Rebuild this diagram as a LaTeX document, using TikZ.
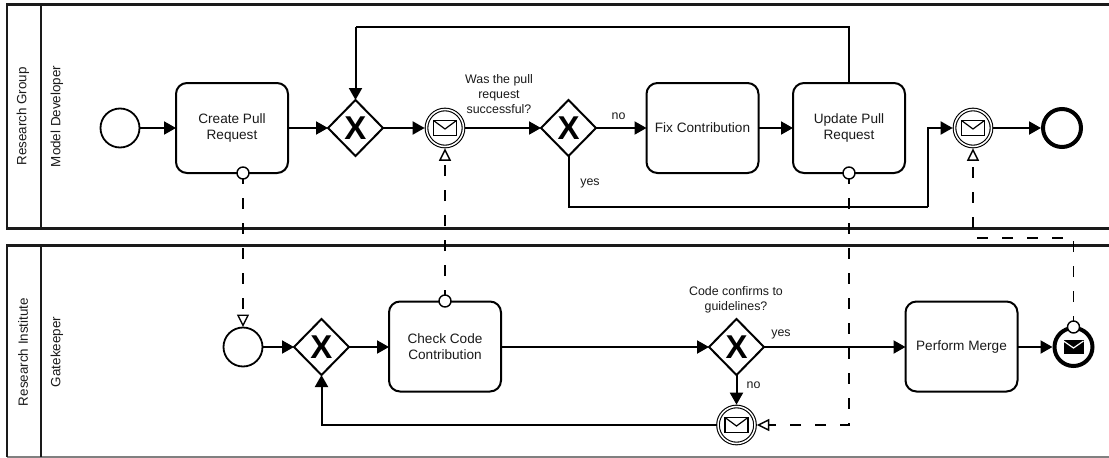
\documentclass[tikz,border=0pt]{standalone}
\usepackage{fontspec}
\setmainfont{Liberation Sans}
\usetikzlibrary{arrows.meta,shapes.geometric}
\definecolor{ink}{HTML}{1A1A1A}
\tikzset{
  x=1pt,y=-1pt,
  poolline/.style={draw=ink,line width=2.2pt},
  tasklabel/.style={font=\fontsize{13.6}{16}\selectfont,align=center,text=ink},
  smalllabel/.style={font=\fontsize{12.4}{15}\selectfont,align=center,text=ink,inner sep=0pt},
  poollabel/.style={font=\fontsize{13.4}{16}\selectfont,text=ink,rotate=90,inner sep=0pt},
  task/.style={tasklabel,draw=black,line width=2pt,fill=white,rounded corners=11pt,minimum width=112pt,minimum height=90pt,inner sep=0pt,outer sep=0pt},
  xgate/.style={diamond,aspect=1,draw=black,line width=2pt,fill=white,minimum width=55pt,minimum height=56pt,inner sep=0pt,outer sep=0pt,font=\fontsize{33}{33}\bfseries\selectfont},
  startev/.style={circle,draw=black,line width=1.8pt,fill=white,minimum size=39pt,inner sep=0pt,outer sep=0.5pt},
  endev/.style={circle,draw=black,line width=4pt,fill=white,minimum size=38pt,inner sep=0pt,outer sep=2pt},
  catchev/.style={circle,draw=black,fill=white,line width=1.1pt,double,double distance=1.5pt,minimum size=37pt,inner sep=0pt,outer sep=1.85pt},
  port/.style={circle,draw=black,line width=1.4pt,fill=white,minimum size=12pt,inner sep=0pt,outer sep=0pt},
  flow/.style={draw=black,line width=2pt,-{Triangle[length=12pt,width=13pt]}},
  plainflow/.style={draw=black,line width=2pt},
  msg/.style={draw=black,line width=1.6pt,dash pattern=on 11pt off 14pt,dash phase=6pt,-{Triangle[open,length=12.5pt,width=12pt,line width=1.4pt]}},
  mailicon/.pic={
    \draw[black,line width=1.2pt,fill=white] (-11.5,-7.5) rectangle (11.5,7.5);
    \draw[black,line width=1.2pt] (-11.5,-7.5) -- (0,1) -- (11.5,-7.5);
  },
  mailfilled/.pic={
    \fill[black] (-10,-7) rectangle (10,7);
    \draw[white,line width=1.2pt] (-10,-6) -- (0,1) -- (10,-6);
  },
}
\begin{document}
\begin{tikzpicture}
\useasboundingbox (0,0) rectangle (1109,458);
\fill[white] (0,0) rectangle (1109,458);

% pools
\draw[poolline] (1109,4.5) -- (7,4.5) -- (7,228.5) -- (1109,228.5);
\draw[poolline] (41,4.5) -- (41,228.5);
\draw[draw=gray,line width=1.5pt] (7,457) -- (1109,457);
\draw[poolline] (7,457) -- (7,245.5) -- (1109,245.5);
\draw[poolline] (41,245.5) -- (41,457);
\node[poollabel] (pa) at (23,116.5) {Research Group};
\node[poollabel] (pb) at (57,116.5) {Model Developer};
\node[poollabel] (pc) at (23,352) {Research Institute};
\node[poollabel] (pd) at (57,352) {Gatekeeper};

% upper lane
\node[startev] (s1) at (120,128) {};
\node[task] (create) at (232,128) {Create Pull\\Request};
\node[xgate] (g1) at (355.5,128) {X};
\node[catchev] (e1) at (445,128) {};
\pic at (e1.center) {mailicon};
\node[xgate] (g2) at (568.5,128) {X};
\node[task] (fix) at (702.5,128) {Fix Contribution};
\node[task] (upd) at (849,128) {Update Pull\\Request};
\node[catchev] (e2) at (973,128) {};
\pic at (e2.center) {mailicon};
\node[endev] (e3) at (1062,128) {};
\coordinate (looptop) at (355.5,27);
\coordinate (yesturn) at (928,207);

% lower lane
\node[startev] (s2) at (243,347) {};
\node[xgate] (g3) at (321.5,347) {X};
\node[task] (check) at (445,346.5) {Check Code\\Contribution};
\node[xgate] (g4) at (736.5,347) {X};
\node[catchev] (e4) at (736.5,425) {};
\pic at (e4.center) {mailicon};
\node[task] (merge) at (961.5,346.5) {Perform Merge};
\node[endev] (e5) at (1073.5,347) {};
\pic at (e5.center) {mailfilled};
\coordinate (msgturn) at (973,238);
\coordinate (msgcorner) at (849,425);

% ports
\node[port] (pcreate) at (243,173) {};
\node[port] (pupd) at (849,173) {};
\node[port] (pcheck) at (445,301) {};
\node[port] (pend) at (1073.5,327) {};

% sequence flows
\draw[flow] (s1) -- (create);
\draw[flow] (create) -- (g1);
\draw[flow] (g1) -- (e1);
\draw[flow] (e1) -- (g2);
\draw[flow] (g2) -- (fix);
\draw[flow] (fix) -- (upd);
\draw[plainflow] (upd.north) |- (looptop);
\draw[flow] (looptop) -- (g1.north);
\draw[plainflow] (g2.south) |- (yesturn);
\draw[flow] (yesturn) |- (e2.west);
\draw[flow] (e2) -- (e3);
\draw[flow] (s2) -- (g3);
\draw[flow] (g3) -- (check.west |- g3.east);
\draw[flow] (check.east |- g4.west) -- (g4.west);
\draw[flow] (g4.east) -- (merge.west |- g4.east);
\draw[flow] (g4.south) -- (e4.north);
\draw[flow] (merge.east |- e5.west) -- (e5.west);
\draw[flow] (e4.west) -| (g3.south);

% message flows
\draw[msg] (pcreate.south) -- (s2.north);
\draw[msg] (pcheck.north) -- (e1.south);
\draw[msg] (pupd.south) -- (msgcorner) -- (e4.east);
\draw[msg] (pend.north) |- (msgturn) -- (e2.south);

% labels
\node[smalllabel] (q1) at (499,94) {Was the pull\\request\\successful?};
\node[smalllabel] (q2) at (736,299.5) {Code confirms to\\guidelines?};
\node[smalllabel] (l1) at (618.5,116) {no};
\node[smalllabel] (l2) at (590,183) {yes};
\node[smalllabel] (l3) at (781,334) {yes};
\node[smalllabel] (l4) at (753.5,385) {no};
\end{tikzpicture}
\end{document}
